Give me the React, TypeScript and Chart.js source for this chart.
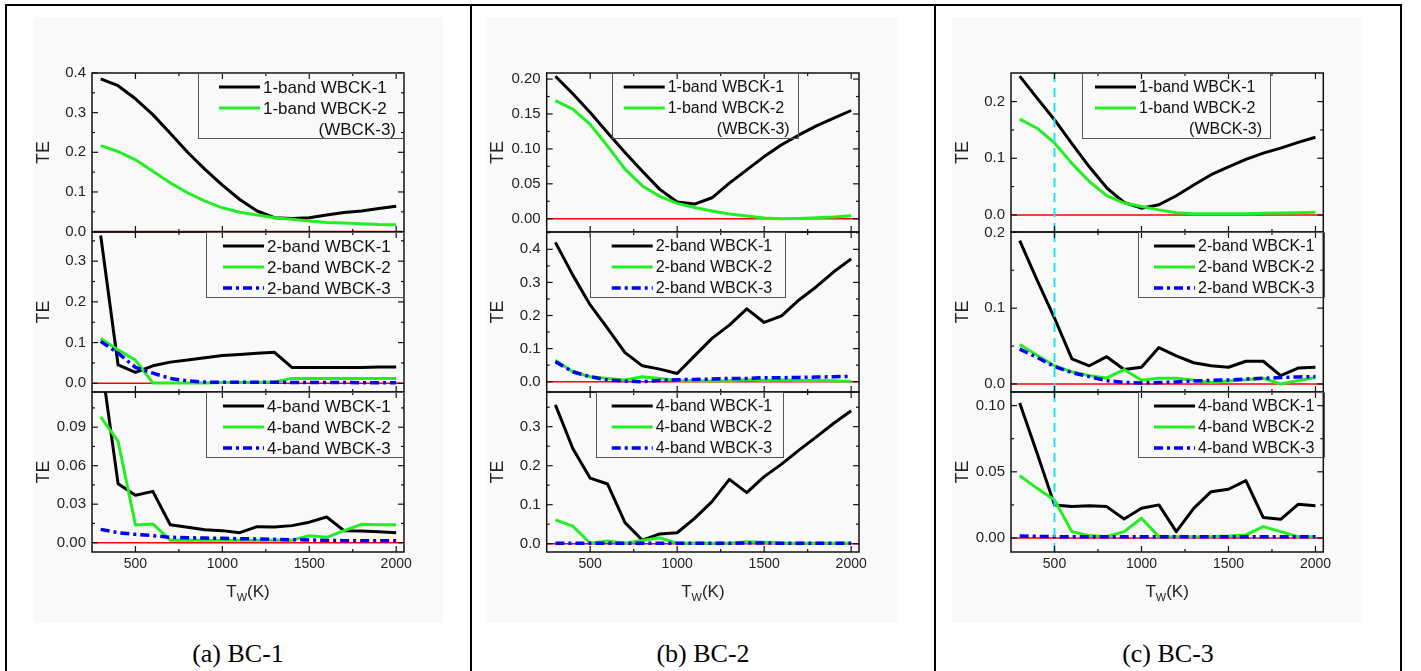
import React, { useEffect, useRef } from "react";
import { Chart, registerables } from "chart.js";

Chart.register(...registerables);

// ---------- shared axis data ----------
const temperatures = [300, 400, 500, 600, 700, 800, 900, 1000, 1100, 1200, 1300, 1400, 1500, 1600, 1700, 1800, 1900, 2000];
const xTickValues = [500, 1000, 1500, 2000];
const xMinorTicks = [750, 1250, 1750];
const xRange = [250, 2045];
const zeroLineX = [250, 2045];
const markerT = 500;
const captions = ["(a) BC-1", "(b) BC-2", "(c) BC-3"];

// ---------- BC-1 ----------
const bc1Band1W1 = [0.385, 0.368, 0.335, 0.295, 0.248, 0.2, 0.157, 0.117, 0.081, 0.052, 0.035, 0.033, 0.035, 0.042, 0.048, 0.052, 0.058, 0.064];
const bc1Band1W2 = [0.217, 0.202, 0.181, 0.152, 0.123, 0.098, 0.077, 0.06, 0.049, 0.042, 0.035, 0.031, 0.027, 0.023, 0.022, 0.02, 0.018, 0.017];
const bc1Band2W1 = [0.363, 0.045, 0.027, 0.043, 0.052, 0.057, 0.063, 0.068, 0.071, 0.074, 0.076, 0.039, 0.039, 0.039, 0.039, 0.039, 0.04, 0.04];
const bc1Band2W2 = [0.11, 0.082, 0.057, 0.001, 0.001, 0.001, 0.001, 0.002, 0.002, 0.002, 0.003, 0.012, 0.012, 0.012, 0.012, 0.012, 0.012, 0.012];
const bc1Band2W3 = [0.103, 0.074, 0.039, 0.025, 0.012, 0.006, 0.003, 0.0025, 0.0025, 0.0025, 0.0025, 0.002, 0.002, 0.002, 0.002, 0.0015, 0.0015, 0.0015];
const bc1Band4W1 = [0.144, 0.046, 0.037, 0.04, 0.014, 0.012, 0.01, 0.0094, 0.0078, 0.0125, 0.0122, 0.0133, 0.016, 0.02, 0.0094, 0.0091, 0.0086, 0.0078];
const bc1Band4W2 = [0.098, 0.079, 0.0138, 0.0146, 0.002, 0.002, 0.002, 0.002, 0.002, 0.002, 0.002, 0.002, 0.0055, 0.0042, 0.0094, 0.0143, 0.014, 0.014];
const bc1Band4W3 = [0.0104, 0.0078, 0.0065, 0.0055, 0.0042, 0.0039, 0.0036, 0.0034, 0.0031, 0.0029, 0.0026, 0.0023, 0.0021, 0.0018, 0.0016, 0.0016, 0.0016, 0.0016];

// ---------- BC-2 ----------
const bc2Band1W1 = [0.204, 0.179, 0.152, 0.123, 0.095, 0.068, 0.042, 0.024, 0.021, 0.03, 0.051, 0.07, 0.089, 0.106, 0.12, 0.133, 0.144, 0.155];
const bc2Band1W2 = [0.169, 0.157, 0.135, 0.104, 0.071, 0.047, 0.032, 0.022, 0.016, 0.011, 0.0067, 0.0038, 0.001, 0.0, 0.0005, 0.0014, 0.0024, 0.0043];
const bc2Band2W1 = [0.421, 0.322, 0.232, 0.161, 0.088, 0.048, 0.038, 0.025, 0.078, 0.131, 0.171, 0.22, 0.179, 0.199, 0.247, 0.287, 0.332, 0.371];
const bc2Band2W2 = [0.065, 0.03, 0.015, 0.01, 0.005, 0.015, 0.01, 0.004, 0.003, 0.002, 0.003, 0.006, 0.004, 0.005, 0.004, 0.004, 0.003, 0.001];
const bc2Band2W3 = [0.06, 0.03, 0.015, 0.005, 0.002, 0.0, 0.004, 0.006, 0.007, 0.008, 0.01, 0.01, 0.012, 0.012, 0.013, 0.014, 0.015, 0.016];
const bc2Band4W1 = [0.356, 0.244, 0.168, 0.153, 0.054, 0.009, 0.025, 0.028, 0.065, 0.108, 0.165, 0.131, 0.172, 0.204, 0.24, 0.274, 0.309, 0.341];
const bc2Band4W2 = [0.061, 0.045, 0.001, 0.007, 0.001, 0.008, 0.015, 0.001, 0.001, 0.001, 0.001, 0.005, 0.004, 0.002, 0.001, 0.001, 0.001, 0.001];
const bc2Band4W3 = [0.001, 0.001, 0.001, 0.001, 0.001, 0.001, 0.001, 0.001, 0.001, 0.001, 0.001, 0.002, 0.002, 0.001, 0.001, 0.001, 0.001, 0.001];

// ---------- BC-3 ----------
const bc3Band1W1 = [0.245, 0.206, 0.168, 0.126, 0.085, 0.048, 0.022, 0.012, 0.018, 0.034, 0.053, 0.071, 0.085, 0.098, 0.109, 0.118, 0.128, 0.137];
const bc3Band1W2 = [0.169, 0.153, 0.127, 0.091, 0.059, 0.034, 0.021, 0.015, 0.009, 0.004, 0.002, 0.002, 0.002, 0.0024, 0.003, 0.0035, 0.004, 0.0047];
const bc3Band2W1 = [0.189, 0.137, 0.087, 0.033, 0.024, 0.036, 0.019, 0.022, 0.048, 0.037, 0.028, 0.024, 0.022, 0.03, 0.03, 0.011, 0.021, 0.022];
const bc3Band2W2 = [0.052, 0.038, 0.024, 0.016, 0.011, 0.008, 0.019, 0.005, 0.0075, 0.0075, 0.005, 0.002, 0.004, 0.0057, 0.0075, 0.0, 0.0044, 0.0084];
const bc3Band2W3 = [0.046, 0.035, 0.023, 0.015, 0.0097, 0.0044, 0.0022, 0.0013, 0.0018, 0.0026, 0.004, 0.0048, 0.0053, 0.0066, 0.0075, 0.0084, 0.0093, 0.0097];
const bc3Band4W1 = [0.102, 0.064, 0.025, 0.0237, 0.0244, 0.0237, 0.0144, 0.0224, 0.025, 0.0048, 0.0224, 0.035, 0.0368, 0.0433, 0.0154, 0.0141, 0.0254, 0.0244];
const bc3Band4W2 = [0.047, 0.0375, 0.0287, 0.0048, 0.0018, 0.001, 0.0048, 0.0149, 0.001, 0.001, 0.001, 0.001, 0.0015, 0.0023, 0.0086, 0.0048, 0.001, 0.001];
const bc3Band4W3 = [0.0015, 0.0012, 0.001, 0.001, 0.001, 0.001, 0.001, 0.001, 0.001, 0.001, 0.001, 0.001, 0.001, 0.001, 0.001, 0.001, 0.001, 0.001];

// ---------- styles ----------
const STYLES: Record<string, { color: string; width: number; dash: number[]; order: number }> = {
  w1: { color: "#000000", width: 3, dash: [], order: 3 },
  w2: { color: "#22ee22", width: 3, dash: [], order: 2 },
  w3: { color: "#0000ff", width: 3.5, dash: [9, 4, 3, 4], order: 1 },
};
const FONT = '"Liberation Sans", Arial, Helvetica, sans-serif';

const COLS = [
  { plotL: 92, plotR: 404, canvasL: 10, legendFont: 17 },
  { plotL: 546.7, plotR: 859, canvasL: 475, legendFont: 16 },
  { plotL: 1011, plotR: 1323.3, canvasL: 940, legendFont: 16 },
];
const ROWS = [
  { top: 73, bottom: 232 },
  { top: 232, bottom: 392 },
  { top: 392, bottom: 552 },
];
const CANVAS_TOP = 20;
const CANVAS_H = 600;
const CANVAS_W = 455;
const Y_AXIS_W = 62;
const X_AXIS_H = 50;

type Series = { label: string; data: number[]; kind: string };
type PanelCfg = {
  col: number;
  row: number;
  series: Series[];
  yMin: number;
  yMax: number;
  yTicks: number[];
  yMinor: number[];
  dec: number;
  legend: { dx: number; w: number; lineStart: number };
  note?: string;
  marker?: boolean;
};

const PANELS: PanelCfg[] = [
  {
    col: 0, row: 0,
    series: [
      { label: "1-band WBCK-1", data: bc1Band1W1, kind: "w1" },
      { label: "1-band WBCK-2", data: bc1Band1W2, kind: "w2" },
    ],
    yMin: -0.001, yMax: 0.4, yTicks: [0, 0.1, 0.2, 0.3, 0.4], yMinor: [0.05, 0.15, 0.25, 0.35], dec: 1,
    legend: { dx: 106, w: 206, lineStart: 21 }, note: "(WBCK-3)",
  },
  {
    col: 0, row: 1,
    series: [
      { label: "2-band WBCK-1", data: bc1Band2W1, kind: "w1" },
      { label: "2-band WBCK-2", data: bc1Band2W2, kind: "w2" },
      { label: "2-band WBCK-3", data: bc1Band2W3, kind: "w3" },
    ],
    yMin: -0.0214, yMax: 0.3717, yTicks: [0, 0.1, 0.2, 0.3], yMinor: [0.05, 0.15, 0.25, 0.35], dec: 1,
    legend: { dx: 114, w: 198, lineStart: 17 },
  },
  {
    col: 0, row: 2,
    series: [
      { label: "4-band WBCK-1", data: bc1Band4W1, kind: "w1" },
      { label: "4-band WBCK-2", data: bc1Band4W2, kind: "w2" },
      { label: "4-band WBCK-3", data: bc1Band4W3, kind: "w3" },
    ],
    yMin: -0.00725, yMax: 0.1174, yTicks: [0, 0.03, 0.06, 0.09], yMinor: [0.015, 0.045, 0.075, 0.105], dec: 2,
    legend: { dx: 114, w: 198, lineStart: 17 },
  },
  {
    col: 1, row: 0,
    series: [
      { label: "1-band WBCK-1", data: bc2Band1W1, kind: "w1" },
      { label: "1-band WBCK-2", data: bc2Band1W2, kind: "w2" },
    ],
    yMin: -0.019, yMax: 0.2087, yTicks: [0, 0.05, 0.1, 0.15, 0.2], yMinor: [0.025, 0.075, 0.125, 0.175], dec: 2,
    legend: { dx: 65, w: 186, lineStart: 12 }, note: "(WBCK-3)",
  },
  {
    col: 1, row: 1,
    series: [
      { label: "2-band WBCK-1", data: bc2Band2W1, kind: "w1" },
      { label: "2-band WBCK-2", data: bc2Band2W2, kind: "w2" },
      { label: "2-band WBCK-3", data: bc2Band2W3, kind: "w3" },
    ],
    yMin: -0.0311, yMax: 0.4523, yTicks: [0, 0.1, 0.2, 0.3, 0.4], yMinor: [0.05, 0.15, 0.25, 0.35, 0.45], dec: 1,
    legend: { dx: 43, w: 195, lineStart: 22 },
  },
  {
    col: 1, row: 2,
    series: [
      { label: "4-band WBCK-1", data: bc2Band4W1, kind: "w1" },
      { label: "4-band WBCK-2", data: bc2Band4W2, kind: "w2" },
      { label: "4-band WBCK-3", data: bc2Band4W3, kind: "w3" },
    ],
    yMin: -0.0213, yMax: 0.389, yTicks: [0, 0.1, 0.2, 0.3], yMinor: [0.05, 0.15, 0.25, 0.35], dec: 1,
    legend: { dx: 49, w: 187, lineStart: 16 },
  },
  {
    col: 2, row: 0,
    series: [
      { label: "1-band WBCK-1", data: bc3Band1W1, kind: "w1" },
      { label: "1-band WBCK-2", data: bc3Band1W2, kind: "w2" },
    ],
    yMin: -0.03, yMax: 0.2504, yTicks: [0, 0.1, 0.2], yMinor: [0.05, 0.15], dec: 1,
    legend: { dx: 71, w: 188, lineStart: 13 }, note: "(WBCK-3)", marker: true,
  },
  {
    col: 2, row: 1,
    series: [
      { label: "2-band WBCK-1", data: bc3Band2W1, kind: "w1" },
      { label: "2-band WBCK-2", data: bc3Band2W2, kind: "w2" },
      { label: "2-band WBCK-3", data: bc3Band2W3, kind: "w3" },
    ],
    yMin: -0.0106, yMax: 0.2005, yTicks: [0, 0.1, 0.2], yMinor: [0.05, 0.15], dec: 1,
    legend: { dx: 127, w: 186, lineStart: 16 }, marker: true,
  },
  {
    col: 2, row: 2,
    series: [
      { label: "4-band WBCK-1", data: bc3Band4W1, kind: "w1" },
      { label: "4-band WBCK-2", data: bc3Band4W2, kind: "w2" },
      { label: "4-band WBCK-3", data: bc3Band4W3, kind: "w3" },
    ],
    yMin: -0.0106, yMax: 0.1103, yTicks: [0, 0.05, 0.1], yMinor: [0.025, 0.075], dec: 2,
    legend: { dx: 127, w: 186, lineStart: 16 }, marker: true,
  },
];

function makePlugins(cfg: PanelCfg) {
  const colCfg = COLS[cfg.col];
  const framePlugin = {
    id: "frameTicks",
    afterDatasetsDraw(chart: any) {
      const { ctx, chartArea: a, scales } = chart;
      const xs = scales.x;
      const ys = scales.y;
      ctx.save();
      ctx.strokeStyle = "#111";
      ctx.lineWidth = 1.5;
      ctx.strokeRect(a.left, a.top, a.right - a.left, a.bottom - a.top);
      ctx.lineWidth = 1.2;
      const tick = (px: number, py: number, dx: number, dy: number) => {
        ctx.beginPath();
        ctx.moveTo(px, py);
        ctx.lineTo(px + dx, py + dy);
        ctx.stroke();
      };
      xTickValues.forEach((v) => {
        const p = xs.getPixelForValue(v);
        tick(p, a.bottom, 0, -6);
        tick(p, a.top, 0, 6);
      });
      xMinorTicks.forEach((v) => {
        const p = xs.getPixelForValue(v);
        tick(p, a.bottom, 0, -3);
        tick(p, a.top, 0, 3);
      });
      cfg.yTicks.forEach((v) => {
        const p = ys.getPixelForValue(v);
        tick(a.left, p, 6, 0);
        tick(a.right, p, -6, 0);
      });
      cfg.yMinor.forEach((v) => {
        const p = ys.getPixelForValue(v);
        if (p < a.top - 0.5 || p > a.bottom + 0.5) return;
        tick(a.left, p, 3, 0);
        tick(a.right, p, -3, 0);
      });
      ctx.restore();
    },
  };
  const legendPlugin = {
    id: "boxLegend",
    afterDraw(chart: any) {
      const { ctx, chartArea: a } = chart;
      const bx = a.left + cfg.legend.dx;
      const by = a.top;
      const bw = cfg.legend.w;
      const bh = 65;
      const rows = [14, 35, 56];
      ctx.save();
      ctx.strokeStyle = "#555";
      ctx.lineWidth = 1;
      ctx.strokeRect(Math.round(bx) + 0.5, Math.round(by) + 0.5, Math.round(bw), bh);
      ctx.font = `${colCfg.legendFont}px ${FONT}`;
      ctx.textBaseline = "middle";
      ctx.fillStyle = "#111";
      cfg.series.forEach((s, i) => {
        const st = STYLES[s.kind];
        const ly = by + rows[i];
        const x0 = bx + cfg.legend.lineStart;
        ctx.strokeStyle = st.color;
        ctx.lineWidth = st.width;
        ctx.setLineDash(st.dash);
        ctx.beginPath();
        ctx.moveTo(x0, ly);
        ctx.lineTo(x0 + 41, ly);
        ctx.stroke();
        ctx.setLineDash([]);
        ctx.textAlign = "left";
        ctx.fillText(s.label, x0 + 44, ly + 1);
      });
      if (cfg.note) {
        ctx.textAlign = "right";
        ctx.fillText(cfg.note, bx + bw - 8, by + rows[2] + 1);
      }
      ctx.restore();
    },
  };
  const xTitlePlugin = {
    id: "xTitle",
    afterDraw(chart: any) {
      if (cfg.row !== 2) return;
      const { ctx, chartArea: a } = chart;
      const big = `17px ${FONT}`;
      const small = `11px ${FONT}`;
      ctx.save();
      ctx.font = big;
      const wT = ctx.measureText("T").width;
      const wK = ctx.measureText("(K)").width;
      ctx.font = small;
      const wW = ctx.measureText("W").width;
      let x = (a.left + a.right) / 2 - (wT + wW + wK) / 2;
      const y = a.bottom + 40;
      ctx.fillStyle = "#222";
      ctx.textBaseline = "middle";
      ctx.textAlign = "left";
      ctx.font = big;
      ctx.fillText("T", x, y);
      x += wT;
      ctx.font = small;
      ctx.fillText("W", x, y + 6);
      x += wW;
      ctx.font = big;
      ctx.fillText("(K)", x, y);
      ctx.restore();
    },
  };
  return [framePlugin, legendPlugin, xTitlePlugin];
}

function ChartPanel({ cfg }: { cfg: PanelCfg }) {
  const ref = useRef<HTMLCanvasElement>(null);
  const col = COLS[cfg.col];
  useEffect(() => {
    const row = ROWS[cfg.row];
    const isBottom = cfg.row === 2;
    const datasets: any[] = cfg.series.map((s) => {
      const st = STYLES[s.kind];
      return {
        label: s.label,
        data: temperatures.map((t, i) => ({ x: t, y: s.data[i] })),
        borderColor: st.color,
        borderWidth: st.width,
        borderDash: st.dash,
        pointRadius: 0,
        fill: false,
        tension: 0,
        order: st.order,
        borderJoinStyle: "round",
      };
    });
    datasets.push({
      label: "",
      data: zeroLineX.map((x) => ({ x, y: 0 })),
      borderColor: "#ff0000",
      borderWidth: 1.5,
      pointRadius: 0,
      fill: false,
      order: 5,
    });
    if (cfg.marker) {
      datasets.push({
        label: "",
        data: [
          { x: markerT, y: cfg.yMin },
          { x: markerT, y: cfg.yMax },
        ],
        borderColor: "#1ee3ef",
        borderWidth: 2,
        borderDash: [9, 6],
        pointRadius: 0,
        fill: false,
        order: 0,
      });
    }
    const chart = new Chart(ref.current as HTMLCanvasElement, {
      type: "line",
      data: { datasets },
      options: {
        animation: false,
        responsive: false,
        events: [],
        layout: {
          padding: {
            left: col.plotL - Y_AXIS_W - col.canvasL,
            right: col.canvasL + CANVAS_W - col.plotR,
            top: row.top - CANVAS_TOP,
            bottom: CANVAS_TOP + CANVAS_H - row.bottom - (isBottom ? X_AXIS_H : 0),
          },
        },
        plugins: {
          legend: { display: false },
          tooltip: { enabled: false },
        },
        scales: {
          x: {
            type: "linear",
            min: xRange[0],
            max: xRange[1],
            display: isBottom,
            grid: { display: false, drawTicks: false },
            border: { display: false },
            ticks: {
              padding: 4,
              color: "#222",
              font: { family: FONT, size: 14 },
              autoSkip: false,
              maxRotation: 0,
              callback: (v: any) => String(v),
            },
            afterBuildTicks: (s: any) => {
              s.ticks = xTickValues.map((v) => ({ value: v }));
            },
            afterFit: (s: any) => {
              s.height = isBottom ? X_AXIS_H : 0;
            },
          },
          y: {
            type: "linear",
            min: cfg.yMin,
            max: cfg.yMax,
            grid: { display: false, drawTicks: false },
            border: { display: false },
            ticks: {
              padding: 6,
              color: "#222",
              font: { family: FONT, size: 15 },
              autoSkip: false,
              callback: (v: any) => Number(v).toFixed(cfg.dec),
            },
            title: {
              display: true,
              text: "TE",
              color: "#222",
              font: { family: FONT, size: 18 },
              padding: { top: 3, bottom: 0 },
            },
            afterBuildTicks: (s: any) => {
              s.ticks = cfg.yTicks.map((v) => ({ value: v }));
            },
            afterFit: (s: any) => {
              s.width = Y_AXIS_W;
            },
          },
        },
      } as any,
      plugins: makePlugins(cfg) as any,
    });
    return () => chart.destroy();
  }, []);
  return (
    <canvas
      ref={ref}
      width={CANVAS_W}
      height={CANVAS_H}
      style={{ position: "absolute", left: col.canvasL, top: CANVAS_TOP, width: CANVAS_W, height: CANVAS_H }}
    />
  );
}

const BG_RECTS = [
  { left: 33, width: 410 },
  { left: 487, width: 410 },
  { left: 952, width: 410 },
];
const V_LINES = [5, 470, 934, 1400];
const CAPTION_CENTERS = [238, 703, 1168];

export default function App() {
  return (
    <div
      style={{
        position: "absolute",
        left: 0,
        top: 0,
        width: 1421,
        height: 671,
        background: "#ffffff",
        overflow: "hidden",
      }}
    >
      {BG_RECTS.map((r, i) => (
        <div
          key={"bg" + i}
          style={{ position: "absolute", left: r.left, top: 17, width: r.width, height: 606, background: "#f9f9f9" }}
        />
      ))}
      <div style={{ position: "absolute", left: 5, top: 4, width: 1397, height: 2, background: "#000" }} />
      {V_LINES.map((x, i) => (
        <div key={"vl" + i} style={{ position: "absolute", left: x, top: 4, width: 2, height: 667, background: "#000" }} />
      ))}
      {PANELS.map((p, i) => (
        <ChartPanel key={i} cfg={p} />
      ))}
      {captions.map((c, i) => (
        <div
          key={"cap" + i}
          style={{
            position: "absolute",
            left: CAPTION_CENTERS[i] - 150,
            width: 300,
            top: 638,
            height: 32,
            lineHeight: "32px",
            textAlign: "center",
            fontFamily: '"Liberation Serif", "Times New Roman", serif',
            fontSize: 26,
            color: "#000",
          }}
        >
          {c}
        </div>
      ))}
    </div>
  );
}
